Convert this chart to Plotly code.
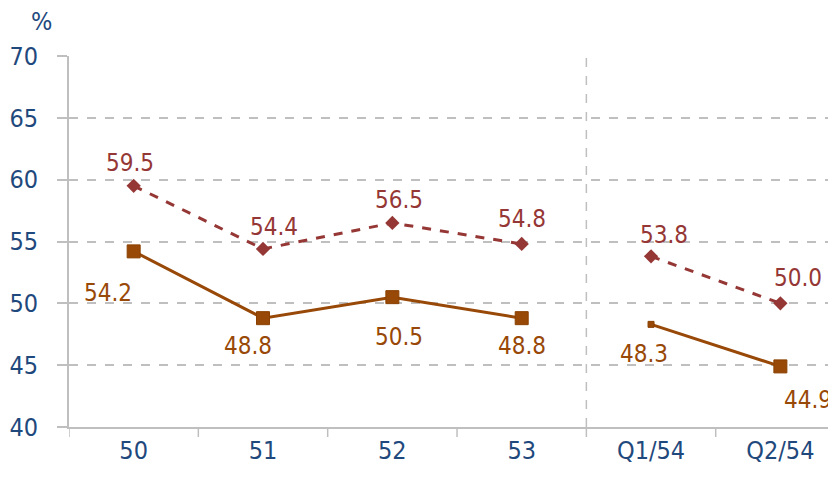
import plotly.graph_objects as go

categories = ["50", "51", "52", "53", "Q1/54", "Q2/54"]
series_a = [59.5, 54.4, 56.5, 54.8, None, 53.8, 50.0]
series_b = [54.2, 48.8, 50.5, 48.8, None, 48.3, 44.9]
labels_a = ["59.5", "54.4", "56.5", "54.8", "53.8", "50.0"]
labels_b = ["54.2", "48.8", "50.5", "48.8", "48.3", "44.9"]

# x positions with a gap between 53 and Q1/54
xpos = [0, 1, 2, 3, 3.5, 4, 5]

col_a = "#953735"
col_b = "#984807"
axis_col = "#1F497D"
font_fam = "DejaVu Sans Condensed, DejaVu Sans, sans-serif"

fig = go.Figure()
fig.add_trace(go.Scatter(
    x=xpos, y=series_a, mode="lines+markers", connectgaps=False,
    line=dict(color=col_a, width=3, dash="dash"),
    marker=dict(symbol="diamond", size=11, color=col_a, opacity=1),
    hoverinfo="skip", showlegend=False))
fig.add_trace(go.Scatter(
    x=xpos, y=series_b, mode="lines+markers", connectgaps=False,
    line=dict(color=col_b, width=3),
    marker=dict(symbol="square", size=[13, 13, 13, 13, 0, 6, 13], color=col_b, opacity=1,
                line=dict(color="#8a4000", width=1)),
    hoverinfo="skip", showlegend=False))

pts_x = [0, 1, 2, 3, 4, 5]
vals_a = [v for v in series_a if v is not None]
vals_b = [v for v in series_b if v is not None]
shift_a = [(-4, 23), (11, 22), (7, 23), (0, 25), (13, 21), (18, 25)]
shift_b = [(-26, -42), (-15, -28), (7, -40), (0, -28), (-7, -30), (54, -34)]
anchor_b = ["center", "center", "center", "center", "center", "right"]
for i in range(6):
    fig.add_annotation(x=pts_x[i], y=vals_a[i], text=labels_a[i], showarrow=False,
                       xshift=shift_a[i][0], yshift=shift_a[i][1],
                       font=dict(color=col_a, size=24, family=font_fam))
    fig.add_annotation(x=pts_x[i], y=vals_b[i], text=labels_b[i], showarrow=False,
                       xshift=shift_b[i][0], yshift=shift_b[i][1], xanchor=anchor_b[i],
                       font=dict(color=col_b, size=24, family=font_fam))

fig.add_shape(type="line", x0=3.5, x1=3.5, y0=40, y1=70, xref="x", yref="y",
              line=dict(color="#BFBFBF", width=1.5, dash="dash"))

# page body adds 8px offset; compensate in margins
L, T, B = 61, 48, 58
W, H = 828, 477
pw, ph = W - L, H - T - B
fig.add_annotation(xref="paper", yref="paper", x=(33 - L) / pw, y=1 + (T - 13) / ph,
                   xanchor="center", yanchor="middle",
                   text="%", showarrow=False, font=dict(color=axis_col, size=25, family=font_fam))

fig.update_layout(
    width=W, height=H,
    margin=dict(l=L, r=0, t=T, b=B, pad=0),
    paper_bgcolor="white", plot_bgcolor="white",
    xaxis=dict(
        range=[-0.5, 5.43], tickmode="array", tickvals=pts_x, ticktext=categories,
        showgrid=False, zeroline=False, showline=True, linecolor="#BFBFBF", linewidth=2,
        ticks="", tickfont=dict(color=axis_col, size=25, family=font_fam),
        ticklabelstandoff=0, automargin=False,
    ),
    yaxis=dict(
        range=[40, 70], dtick=5, showgrid=True, gridcolor="#BFBFBF", griddash="dash",
        gridwidth=1.5, zeroline=False, showline=True, linecolor="#BFBFBF", linewidth=2,
        ticks="outside", ticklen=10, tickcolor="#BFBFBF", tickwidth=1.5,
        tickfont=dict(color=axis_col, size=25, family=font_fam), ticklabelstandoff=14,
        automargin=False,
    ),
)

# tick marks between categories on the x axis
for xb in [-0.5, 0.5, 1.5, 2.5, 3.5, 4.5]:
    fig.add_shape(type="line", x0=xb, x1=xb, y0=0, y1=-10 / ph, xref="x", yref="paper",
                  line=dict(color="#BFBFBF", width=1.5))

fig.write_html("out.html")
